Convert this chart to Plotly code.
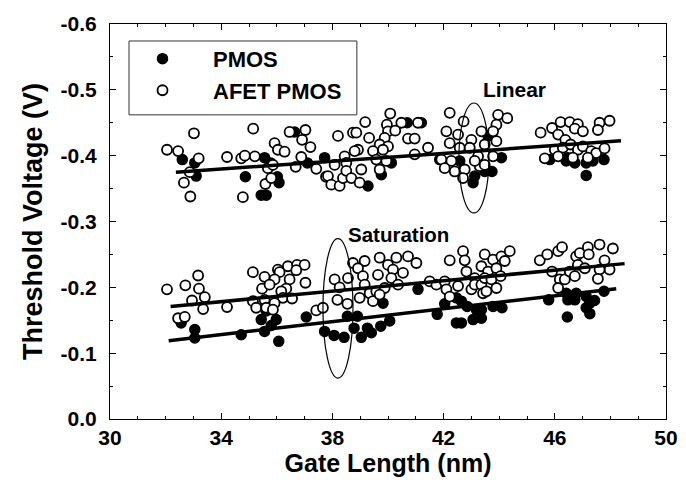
import plotly.graph_objects as go

# ---------------- data ----------------
# Linear region, AFET PMOS (open circles)
lin_afet_x = [32.05, 32.45, 33.02, 33.19, 32.87, 32.66, 32.89, 34.21, 34.72, 34.85, 35.21, 35.15, 34.78,
              35.59, 35.80, 35.68, 35.86, 35.92, 36.04, 36.28, 36.46, 37.03, 36.91, 37.21, 36.88, 36.68,
              37.42, 37.77, 39.18, 40.08, 39.96, 40.48, 41.08, 38.20, 38.74, 38.86, 39.32, 40.00, 40.26,
              39.88, 39.70, 40.72, 40.96, 40.00, 39.82, 39.46, 38.92, 38.80, 38.44, 38.08, 38.50, 37.84,
              37.96, 38.26, 38.38, 38.50, 38.68, 39.04, 38.98, 39.70, 39.94, 39.58, 40.96, 41.44, 42.22,
              42.72, 42.10, 42.52, 43.36, 42.22, 43.00, 42.58, 42.94, 41.92, 42.28, 42.04, 42.40, 42.76,
              42.70, 43.24, 43.30, 43.12, 43.96, 44.29, 43.90, 43.78, 43.90, 43.48, 43.78, 43.48, 45.49,
              45.90, 46.21, 46.54, 46.83, 46.12, 46.72, 47.01, 47.61, 47.97, 47.55, 46.38, 46.00, 46.29,
              46.57, 46.83, 47.01, 47.31, 47.49, 47.79, 45.64, 46.12, 46.65, 47.19]
lin_afet_y = [-0.409, -0.407, -0.434, -0.396, -0.375, -0.359, -0.338, -0.398, -0.396, -0.400, -0.399, -0.441, -0.337,
              -0.357, -0.366, -0.381, -0.386, -0.419, -0.409, -0.406, -0.436, -0.439, -0.424, -0.413, -0.398, -0.383,
              -0.380, -0.368, -0.451, -0.464, -0.447, -0.450, -0.450, -0.430, -0.435, -0.435, -0.427, -0.437, -0.438,
              -0.427, -0.417, -0.426, -0.426, -0.414, -0.409, -0.407, -0.409, -0.407, -0.399, -0.386, -0.389, -0.369,
              -0.356, -0.354, -0.366, -0.377, -0.366, -0.379, -0.359, -0.379, -0.392, -0.394, -0.402, -0.412, -0.465,
              -0.452, -0.437, -0.432, -0.437, -0.419, -0.424, -0.412, -0.412, -0.394, -0.392, -0.381, -0.376, -0.379,
              -0.366, -0.399, -0.384, -0.392, -0.462, -0.457, -0.447, -0.437, -0.422, -0.417, -0.399, -0.386, -0.435,
              -0.442, -0.451, -0.451, -0.448, -0.432, -0.441, -0.437, -0.450, -0.453, -0.439, -0.424, -0.409, -0.412,
              -0.417, -0.409, -0.414, -0.407, -0.404, -0.411, -0.396, -0.399, -0.397, -0.397]

# Linear region, PMOS (filled circles)
lin_pmos_x = [32.60, 33.05, 33.10, 34.87, 35.56, 35.78, 36.02, 36.08, 35.44, 35.62, 36.64, 37.10, 37.72,
              39.28, 39.76, 40.12, 40.69, 41.20, 41.86, 42.58, 43.12, 43.06, 43.48, 43.60, 44.08, 43.74,
              45.82, 46.41, 46.72, 46.47, 47.13, 47.37, 47.77, 47.13]
lin_pmos_y = [-0.394, -0.389, -0.369, -0.368, -0.397, -0.389, -0.368, -0.359, -0.340, -0.340, -0.436, -0.389, -0.397,
              -0.354, -0.371, -0.389, -0.450, -0.450, -0.394, -0.392, -0.369, -0.359, -0.376, -0.430, -0.397, -0.376,
              -0.394, -0.392, -0.389, -0.397, -0.389, -0.392, -0.394, -0.370]

# Saturation region, AFET PMOS (open circles)
sat_afet_x = [32.05, 32.71, 33.17, 33.20, 33.41, 32.95, 33.35, 32.45, 32.69, 34.21, 35.14, 35.56, 36.04,
              36.40, 36.73, 37.00, 36.70, 36.10, 35.92, 36.46, 37.03, 35.47, 35.74, 36.34, 36.16, 36.22,
              36.55, 35.14, 35.26, 35.56, 35.62, 35.92, 35.86, 37.42, 37.66, 38.08, 38.56, 38.26, 38.18,
              38.54, 38.74, 39.16, 38.92, 39.10, 39.16, 38.98, 39.34, 39.46, 39.64, 39.70, 40.00, 40.18,
              40.12, 40.36, 40.54, 40.30, 40.72, 41.02, 39.58, 39.88, 39.70, 41.50, 41.74, 42.04, 42.10,
              42.22, 42.70, 42.76, 42.82, 43.12, 43.36, 43.48, 42.52, 43.00, 43.12, 43.36, 43.42, 42.22,
              43.78, 44.08, 44.38, 44.20, 43.60, 43.90, 43.48, 43.72, 44.05, 43.90, 43.54, 45.46, 45.73,
              46.12, 46.26, 45.90, 46.18, 46.36, 46.12, 46.54, 46.72, 46.77, 46.90, 47.19, 47.22, 46.83,
              47.08, 47.61, 48.09, 47.79, 47.97, 47.61, 47.55]
sat_afet_y = [-0.197, -0.203, -0.218, -0.198, -0.185, -0.180, -0.167, -0.153, -0.155, -0.170, -0.223, -0.216, -0.227,
              -0.232, -0.234, -0.234, -0.226, -0.223, -0.212, -0.212, -0.207, -0.198, -0.204, -0.198, -0.194, -0.184,
              -0.183, -0.179, -0.169, -0.181, -0.169, -0.176, -0.166, -0.165, -0.169, -0.212, -0.214, -0.200, -0.181,
              -0.175, -0.237, -0.240, -0.229, -0.217, -0.204, -0.184, -0.191, -0.179, -0.219, -0.245, -0.234, -0.227,
              -0.214, -0.204, -0.222, -0.245, -0.247, -0.237, -0.194, -0.199, -0.189, -0.209, -0.204, -0.209, -0.197,
              -0.241, -0.255, -0.241, -0.224, -0.214, -0.232, -0.250, -0.202, -0.197, -0.204, -0.204, -0.191, -0.186,
              -0.242, -0.247, -0.255, -0.240, -0.224, -0.229, -0.214, -0.212, -0.217, -0.199, -0.194, -0.241, -0.250,
              -0.255, -0.261, -0.224, -0.212, -0.212, -0.199, -0.224, -0.217, -0.247, -0.252, -0.261, -0.250, -0.234,
              -0.229, -0.265, -0.259, -0.241, -0.227, -0.227, -0.213]

# Saturation region, PMOS (filled circles)
sat_pmos_x = [32.56, 33.05, 33.05, 34.72, 35.44, 35.62, 35.98, 35.80, 35.56, 36.07, 37.06, 37.72, 38.06,
              38.42, 38.54, 38.90, 38.78, 39.04, 39.26, 39.40, 39.74, 40.06, 39.82, 41.08, 41.77, 42.04,
              42.46, 42.64, 42.46, 42.64, 42.85, 43.06, 43.18, 43.36, 43.36, 43.78, 44.10, 45.78, 46.41,
              46.77, 46.47, 46.72, 47.13, 47.26, 47.43, 47.13, 47.77, 46.45, 47.26]
sat_pmos_y = [-0.146, -0.136, -0.123, -0.128, -0.151, -0.164, -0.151, -0.142, -0.133, -0.118, -0.155, -0.133, -0.127,
              -0.124, -0.156, -0.156, -0.138, -0.124, -0.138, -0.131, -0.141, -0.149, -0.176, -0.197, -0.159, -0.175,
              -0.146, -0.146, -0.184, -0.179, -0.171, -0.151, -0.166, -0.166, -0.153, -0.171, -0.169, -0.181, -0.191,
              -0.191, -0.181, -0.181, -0.186, -0.176, -0.180, -0.169, -0.194, -0.155, -0.160]

# Trend (fit) lines
fit_lin_x = [32.37, 48.38]
fit_lin_y = [-0.375, -0.4225]
fit_sat_afet_x = [32.18, 48.51]
fit_sat_afet_y = [-0.171, -0.236]
fit_sat_pmos_x = [32.11, 48.21]
fit_sat_pmos_y = [-0.119, -0.198]

# Ellipses marking regions (x0, x1, y0, y1)
ell_linear = [42.55, 43.63, -0.313, -0.480]
ell_sat = [37.66, 38.74, -0.062, -0.274]

# Axis ticks
x_ticks = [30, 34, 38, 42, 46, 50]
y_ticks = [0.0, -0.1, -0.2, -0.3, -0.4, -0.5, -0.6]
y_tick_text = ["0.0", "-0.1", "-0.2", "-0.3", "-0.4", "-0.5", "-0.6"]

# ---------------- figure ----------------
FONT = "Liberation Sans, Arial, sans-serif"
fig = go.Figure()

fig.add_trace(go.Scatter(
    x=lin_pmos_x + sat_pmos_x, y=lin_pmos_y + sat_pmos_y, mode="markers", name="PMOS",
    marker=dict(symbol="circle", size=10, color="black", line=dict(color="black", width=1.5)),
    legendgroup="a"))
fig.add_trace(go.Scatter(
    x=lin_afet_x + sat_afet_x, y=lin_afet_y + sat_afet_y, mode="markers", name="AFET PMOS",
    marker=dict(symbol="circle", size=10, color="white", line=dict(color="black", width=1.8)),
    legendgroup="b"))

for fx, fy in [(fit_lin_x, fit_lin_y), (fit_sat_afet_x, fit_sat_afet_y), (fit_sat_pmos_x, fit_sat_pmos_y)]:
    fig.add_trace(go.Scatter(x=fx, y=fy, mode="lines", line=dict(color="black", width=3.5),
                             showlegend=False, hoverinfo="skip"))

for e in (ell_linear, ell_sat):
    fig.add_shape(type="circle", xref="x", yref="y", x0=e[0], x1=e[1], y0=e[2], y1=e[3],
                  line=dict(color="black", width=1.2))

# legend frame
fig.add_shape(type="rect", xref="paper", yref="paper", x0=0.0342, x1=0.444, y0=0.770, y1=0.957,
              line=dict(color="#333", width=1), fillcolor="white", layer="above")

fig.add_annotation(x=44.54, y=-0.500, text="Linear", showarrow=False,
                   font=dict(family=FONT, size=21, color="black", weight="bold"))
fig.add_annotation(x=40.39, y=-0.280, text="Saturation", showarrow=False,
                   font=dict(family=FONT, size=20.5, color="black", weight="bold"))

axis_common = dict(showgrid=False, zeroline=False, showline=True, linecolor="black", linewidth=1,
                   mirror="ticks", ticks="inside", tickcolor="black", tickwidth=1, ticklen=6,
                   automargin=False,
                   tickfont=dict(family=FONT, size=21, color="black", weight="bold"))

fig.update_xaxes(range=[30, 50], tickvals=x_ticks, ticktext=[str(v) for v in x_ticks],
                 minor=dict(dtick=1, ticks="inside", ticklen=3, tickcolor="black"),
                 title=dict(text="Gate Length (nm)", font=dict(family=FONT, size=25, color="black", weight="bold"),
                            standoff=6),
                 **axis_common)
fig.update_yaxes(range=[0, -0.6], tickvals=y_ticks, ticktext=y_tick_text,
                 minor=dict(dtick=0.05, ticks="inside", ticklen=3, tickcolor="black"),
                 ticklabelstandoff=8,
                 title=dict(text="Threshold Voltage (V)", font=dict(family=FONT, size=27, color="black", weight="bold"),
                            standoff=10),
                 **axis_common)

fig.update_layout(
    width=686, height=489,
    margin=dict(l=102, r=28, t=16, b=78),
    paper_bgcolor="white", plot_bgcolor="white",
    showlegend=True,
    legend=dict(x=0.0036, y=0.965, xanchor="left", yanchor="top",
                bgcolor="rgba(0,0,0,0)", borderwidth=0,
                font=dict(family=FONT, size=22, color="black", weight="bold"),
                itemwidth=91, tracegroupgap=0, traceorder="grouped"),
)

fig.write_html("out.html")
